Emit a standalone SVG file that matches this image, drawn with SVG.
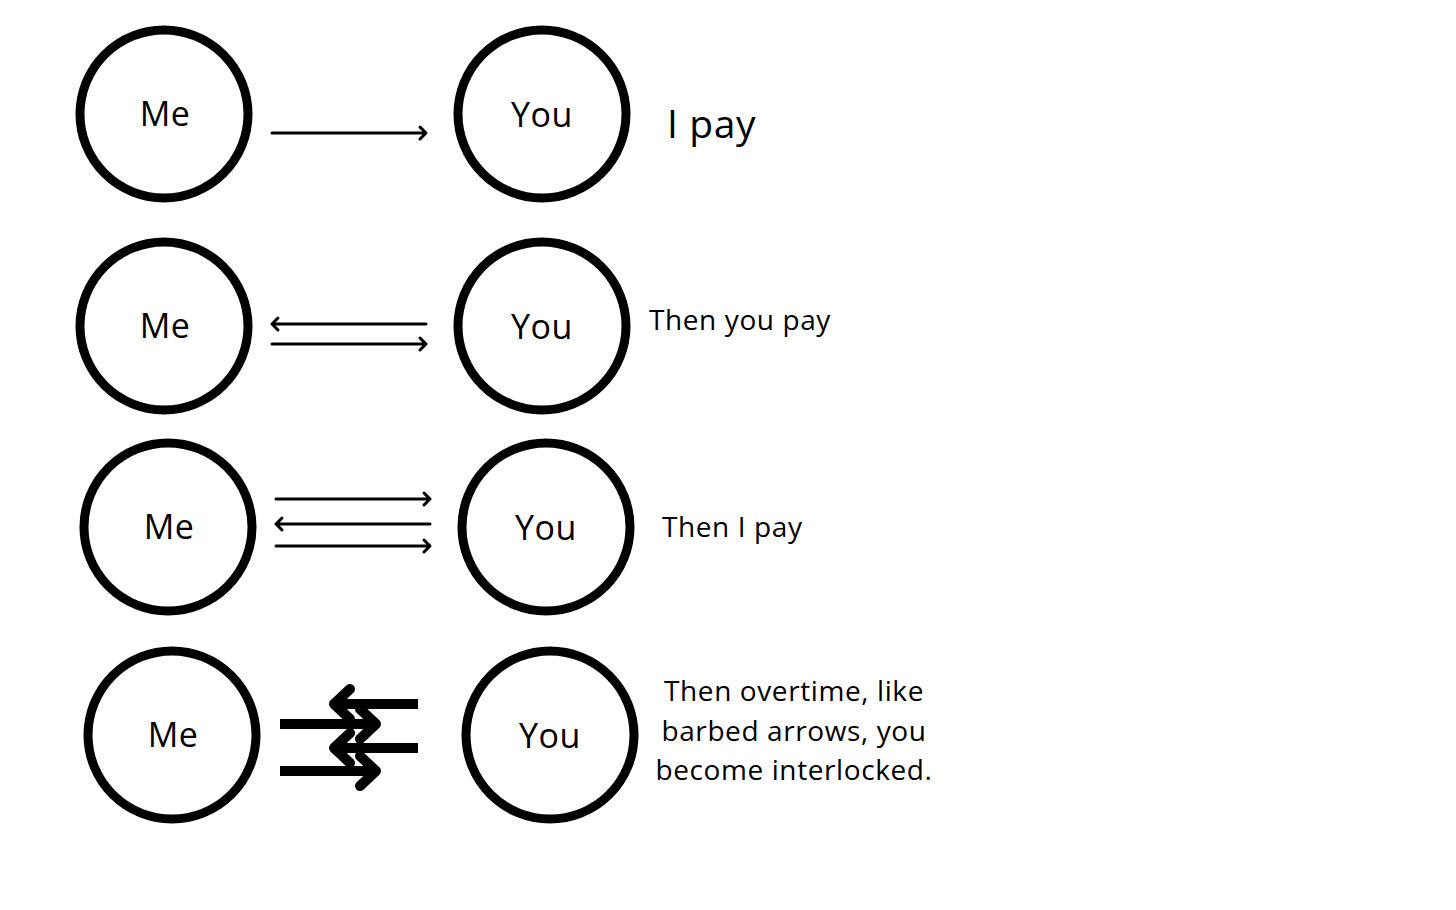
<svg xmlns="http://www.w3.org/2000/svg" width="1456" height="910" viewBox="0 0 1456 910">
<style>
.node{fill:#fff;stroke:#000;stroke-width:9}
.lbl{font-family:"Open Sans","Liberation Sans",sans-serif;font-size:34px;fill:#000;text-anchor:middle;letter-spacing:0.5px}
.txt{font-family:"Open Sans","Liberation Sans",sans-serif;font-size:28px;fill:#000;letter-spacing:0.6px}
.thin{fill:none;stroke:#000;stroke-width:3;stroke-linecap:round;stroke-linejoin:round}
.thick{fill:none;stroke:#000;stroke-width:10;stroke-linejoin:round}
.thickhead{fill:none;stroke:#000;stroke-width:10;stroke-linecap:round;stroke-linejoin:round}
</style>
<rect width="1456" height="910" fill="#fff"/>
<g id="me1"><circle class="node" cx="164" cy="114" r="84"/><text class="lbl" x="165" y="126">Me</text></g>
<g id="you1"><circle class="node" cx="542" cy="114" r="84"/><text class="lbl" x="542" y="127">You</text></g>
<g id="me2"><circle class="node" cx="164" cy="326" r="84"/><text class="lbl" x="165" y="338">Me</text></g>
<g id="you2"><circle class="node" cx="542" cy="326" r="84"/><text class="lbl" x="542" y="339">You</text></g>
<g id="me3"><circle class="node" cx="168" cy="527" r="84"/><text class="lbl" x="169" y="539">Me</text></g>
<g id="you3"><circle class="node" cx="546" cy="527" r="84"/><text class="lbl" x="546" y="540">You</text></g>
<g id="me4"><circle class="node" cx="172" cy="735" r="84"/><text class="lbl" x="173" y="747">Me</text></g>
<g id="you4"><circle class="node" cx="550" cy="735" r="84"/><text class="lbl" x="550" y="748">You</text></g>
<g id="labels">
<text class="txt" x="667" y="138" style="font-size:39px">I pay</text>
<text class="txt" x="649" y="330">Then you pay</text>
<text class="txt" x="662" y="537">Then I pay</text>
<text class="txt" x="794" y="701" text-anchor="middle">Then overtime, like</text>
<text class="txt" x="794" y="741" text-anchor="middle">barbed arrows, you</text>
<text class="txt" x="794" y="780" text-anchor="middle">become interlocked.</text>
</g>
<g id="connectors">
<path class="thin" d="M272 133H426M420 127L426 133L420 139"/>
<path class="thin" d="M426 324H272M278 318L272 324L278 330"/>
<path class="thin" d="M272 344H426M420 338L426 344L420 350"/>
<path class="thin" d="M276 499H430M424 493L430 499L424 505"/>
<path class="thin" d="M430 524H276M282 518L276 524L282 530"/>
<path class="thin" d="M276 546H430M424 540L430 546L424 552"/>
<path class="thick" d="M418 704H336"/>
<path class="thickhead" d="M350 689L334 704L350 719"/>
<path class="thick" d="M280 724H374"/>
<path class="thickhead" d="M360 709L376 724L360 739"/>
<path class="thick" d="M418 748H336"/>
<path class="thickhead" d="M350 733L334 748L350 763"/>
<path class="thick" d="M280 771H374"/>
<path class="thickhead" d="M360 756L376 771L360 786"/>
</g>
</svg>
